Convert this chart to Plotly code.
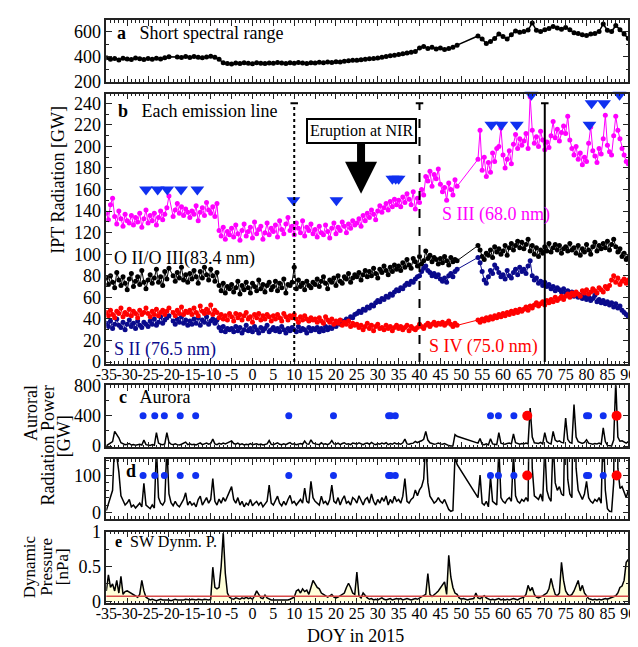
import numpy as np
import plotly.graph_objects as go

# ---------------- data ----------------
doy_half = np.arange(-35, 90.001, 0.5)   # half-day grid, DOY in 2015
doy_day = np.arange(-35, 90.001, 1.0)    # daily grid
x_tickvals = list(range(-35, 91, 5))
x_ticktext = [str(v) for v in x_tickvals]

# panel a: short spectral range (GW), daily
short_range = [392, 380, 386, 375, 388, 382, 378, 390, 384, 379,
               386, 381, 389, 383, 392, 400, None, 398, 394, 401,
               395, 402, 397, 393, 399, 404, 396, 380, 352, 347,
               343, 350, 346, 352, 348, 345, 353, 349, 347, 351,
               348, 354, 350, 346, 352, 349, 355, 351, 347, 353,
               350, 356, 352, 358, 355, 361, 358, 364, 368, 372,
               372, 376, 380, 384, 386, 390, 396, 402, 407, 412,
               418, 424, 430, 436, 442, 470, 482, 465, 475, 462,
               470, 458, 466, 475, 492, None, None, None, None, 565,
               540, 505, 520, 545, 580, 560, 540, 575, 605, 595,
               600, 612, 668, 610, 600, 615, 625, 640, 628, 618,
               632, 615, 590, 585, 575, 568, 580, 585, 600, 660,
               610, 600, 648, 615, 580, 545]

# panel b: emission lines (GW), half-day
s3_680 = [138, 132, 146, 152, 135, 128, 140, 133, 126, 137, 131, 129, 136, 127, 134, 130, 138, 125, 133, 141,
          129, 136, 131, 138, 127, 134, 140, 132, 137, 143, 154, None, 135, 141, 147, 138, 144, 136, 142, 139,
          134, 140, 137, 145, 131, 139, 143, 136, 148, 141, 138, 144, 135, 147, 122, 117, 125, 114, 121, 118,
          124, 116, 127, 119, 113, 122, 128, 117, 121, 125, 115, 130, 119, 123, 126, 114, 120, 129, 118, 124,
          121, 127, 116, 131, 123, 119, 128, 134, 122, 126, 118, 129, 124, 120, 131, 117, 125, 122, 128, 119,
          123, 116, 126, 120, 118, 127, 121, 115, 124, 129, 119, 125, 122, 130, 126, 120, 128, 124, 131, 127,
          129, 133, 126, 136, 131, 138, 134, 141, 137, 132, 140, 145, 139, 143, 147, 141, 149, 144, 151, 146,
          150, 144, 153, 148, 156, 151, 146, 158, 142, 152, 148, 160, 155, 172, 168, 177, 163, 174, 170, 179,
          165, 158, 162, 150, 166, 160, 155, 169, 163] + [None] * 9 + [188, 215,
          178, 190, 172, 185, 176, 194, 186, 198, 200, 217, 192, 180, 188, 196, 184, 202, 211, 198, 207, 201,
          205, 212, 198, 246, 215, 203, 209, 200, 214, 206, 197, 204, 199, 210, 223, 208, 216, 205, 213, 219,
          212, 228, 206, 198, 192, 200, 188, 194, 183, 190, 186, 203, 218, 196, 191, 185, 198, 193, 207, 229,
          201, 195, 192, 210, 228, 215, 207, 198, 192, 186, 184]

o2o3_834 = [78, 72, 80, 74, 69, 83, 76, 71, 79, 73, 67, 77, 82, 70, 75, 79, 72, 85, 74, 68,
            76, 81, 73, 78, 86, 74, 79, 71, 84, 77, 87, None, 80, 75, 83, 78, 88, 76, 81, 74,
            82, 77, 85, 79, 73, 84, 78, 88, 81, 76, 86, 80, 75, 83, 71, 66, 73, 64, 70, 68,
            72, 65, 69, 75, 63, 71, 67, 74, 69, 64, 73, 70, 66, 76, 68, 72, 65, 71, 74, 67,
            70, 75, 66, 73, 69, 77, 64, 72, 71, 74, 88, 68, 76, 70, 73, 67, 75, 71, 69, 74,
            72, 77, 70, 75, 79, 73, 68, 76, 74, 78, 71, 80, 75, 73, 79, 77, 82, 74, 78, 81,
            79, 83, 76, 81, 85, 79, 84, 80, 87, 82, 78, 86, 83, 89, 85, 81, 88, 84, 90, 86,
            89, 85, 92, 88, 95, 90, 87, 96, 93, 89, 98, 91, 94, 103, 96, 99, 93, 97, 95, 91,
            96, 92, 98, 94, 90, 97, 93, 95, 94] + [None] * 9 + [108, 104,
            98, 95, 101, 99, 104, 97, 107, 102, 105, 100, 103, 108, 99, 106, 110, 104, 108, 112, 106, 111,
            105, 109, 114, 103, 108, 100, 106, 98, 104, 101, 107, 103, 110, 102, 106, 109, 104, 108, 101, 105,
            107, 103, 110, 104, 106, 101, 108, 99, 105, 102, 109, 104, 100, 107, 111, 103, 108, 105, 110, 106,
            112, 104, 109, 114, 107, 102, 105, 98, 101, 95, 97]

s4_750 = [46, 43, 48, 44, 41, 47, 45, 50, 42, 46, 44, 49, 43, 47, 45, 41, 48, 44, 46, 50,
          45, 42, 47, 44, 49, 43, 46, 48, 44, 47, 50, None, 46, 43, 48, 45, 51, 44, 47, 46,
          48, 44, 50, 46, 43, 52, 47, 45, 49, 46, 53, 44, 48, 46, 41, 44, 40, 43, 39, 45,
          42, 38, 45, 41, 44, 39, 43, 46, 40, 42, 37, 44, 41, 45, 39, 43, 40, 44, 42, 38,
          43, 40, 44, 41, 38, 45, 42, 39, 43, 41, 44, 40, 37, 42, 39, 43, 40, 38, 41, 39,
          40, 37, 41, 38, 36, 42, 39, 37, 40, 35, 38, 36, 39, 34, 37, 35, 38, 33, 36, 34,
          35, 32, 34, 30, 33, 36, 31, 34, 29, 33, 35, 31, 32, 30, 34, 31, 33, 29, 32, 34,
          31, 33, 30, 32, 34, 29, 33, 31, 30, 32, 35, 33, 31, 34, 36, 33, 35, 37, 34, 36,
          35, 37, 34, 36, 38, 35, 33, 36, 34] + [None] * 9 + [39, 37,
          40, 38, 41, 39, 42, 40, 43, 41, 44, 42, 45, 43, 46, 44, 47, 45, 48, 46, 49, 47,
          49, 51, 48, 52, 50, 53, 55, 52, 54, 56, 53, 57, 55, 58, 56, 60, 57, 59, 61, 58,
          61, 63, 60, 64, 62, 65, 63, 61, 66, 64, 67, 63, 65, 68, 66, 64, 69, 67, 65, 70,
          68, 71, 76, 80, 74, 78, 72, 75, 77, 73, 76]

s2_765 = [36, 33, 38, 31, 35, 40, 34, 32, 37, 30, 35, 39, 33, 36, 31, 38, 34, 32, 37, 35,
          33, 38, 35, 40, 34, 37, 42, 36, 39, 41, 43, None, 38, 35, 40, 37, 42, 36, 39, 34,
          38, 35, 40, 36, 41, 34, 39, 37, 42, 35, 38, 40, 36, 39, 32, 29, 33, 28, 31, 30,
          31, 28, 33, 29, 32, 27, 30, 34, 29, 31, 28, 33, 30, 27, 32, 29, 31, 34, 28, 30,
          32, 29, 31, 28, 33, 30, 27, 31, 29, 32, 30, 28, 33, 29, 31, 30, 27, 32, 29, 31,
          30, 32, 28, 31, 29, 33, 30, 32, 31, 34, 33, 36, 35, 38, 37, 40, 39, 42, 41, 44,
          45, 47, 46, 49, 48, 51, 50, 53, 52, 55, 57, 56, 59, 58, 61, 60, 63, 62, 65, 67,
          66, 69, 68, 71, 73, 72, 75, 74, 77, 79, 80, 84, 87, 89, 85, 83, 80, 82, 79, 81,
          77, 75, 78, 74, 80, 82, 79, 84, 86] + [None] * 9 + [97, 92,
          84, 76, 73, 79, 85, 82, 90, 87, 83, 79, 81, 77, 85, 80, 78, 83, 86, 81, 88, 84,
          86, 82, 89, 94, 80, 76, 78, 73, 75, 71, 74, 70, 72, 68, 70, 66, 69, 67, 65, 68,
          64, 66, 62, 65, 61, 63, 60, 62, 59, 61, 58, 60, 57, 59, 62, 56, 58, 55, 57, 54,
          56, 53, 55, 51, 54, 50, 52, 48, 46, 44, 42]

# panel b markers (blue triangles)
tri_doy = [-25.5, -22.7, -20.4, -17.1, -13.2, 9.8, 20.1, 33.5, 34.3, 35.0,
           57.2, 59.6, 63.3, 66.8, 80.7, 81.2, 84.2, 87.9]
tri_val = [160, 160, 160, 160, 160, 150, 150, 170, 170, 170,
           220, 220, 220, 248, 220, 240, 240, 248]
event_doy = [10, 40, 70]
event_dash = ["dot", "dash", "solid"]
event_top = 240

# panels c/d: auroral radiation power (GW), half-day
aurora = [5, 25, 40, 60, 195, 150, 110, 45, 30, 20, 26, 35, 15, 20, 12, 18, 25, 15, 79, 20,
          15, 10, 20, 12, 178, 40, 25, 20, 30, 178, 50, 26, 18, 30, 20, 15, 25, 35, 53, 20,
          30, 20, 25, 15, 35, 44, 20, 30, 40, 25, 35, 92, 30, 20, 36, 25, 40, 30, 45, 60,
          70, 35, 25, 40, 20, 30, 15, 25, 20, 35, 18, 25, 30, 20, 28, 15, 22, 30, 74, 25,
          20, 30, 44, 25, 18, 30, 20, 35, 46, 25, 30, 20, 28, 35, 25, 66, 30, 25, 84, 40,
          30, 25, 20, 44, 25, 30, 20, 35, 74, 30, 25, 40, 20, 35, 45, 25, 30, 20, 40, 35,
          25, 45, 30, 20, 35, 40, 25, 50, 30, 20, 35, 25, 40, 30, 45, 20, 35, 25, 44, 30,
          35, 25, 44, 92, 30, 25, 35, 40, 61, 45, 61, 70, 90, 195, 80, 44, 35, 25, 30, 40,
          30, 25, 35, 20, 8, 3, 5, 152, 130] + [None] * 9 + [40, 101,
          25, 20, 30, 15, 97, 30, 25, 20, 178, 40, 30, 25, 35, 40, 30, 160, 45, 30, 25, 35,
          30, 40, 30, 500, 120, 45, 40, 35, 50, 30, 178, 60, 40, 30, 195, 80, 60, 70, 50, 45,
          368, 90, 50, 40, 546, 120, 60, 45, 35, 50, 84, 40, 30, 25, 35, 30, 40, 25, 241, 60,
          10, 3, 2, 80, 850, 120, 65, 70, 55, 40, 60]
blue_dot_doy = [-26.2, -23.4, -21.1, -17.3, -13.6, 8.7, 19.4, 32.6, 33.1, 34.2,
                57.0, 58.9, 62.6, 80.0, 80.5, 84.0]
red_dot_doy = [65.8, 87.2]
dot_level_c = 400
dot_level_d = 100

# panel e: solar wind dynamic pressure (nPa), half-day
pressure = [0.15, 0.38, 0.2, 0.25, 0.15, 0.3, 0.12, 0.36, 0.1, 0.14, 0.15, 0.13, 0.12, 0.1, 0.08, 0.06, 0.1, 0.3, 0.15, 0.06,
            0.04, 0.02, 0.03, 0.02, 0.01, 0.02, 0.03, 0.02, 0.02, 0.03, 0.02, 0.01, 0.02, 0.03, 0.02, 0.02, 0.01, 0.02, 0.03, 0.02,
            0.02, 0.03, 0.02, 0.02, 0.03, 0.02, 0.02, 0.03, 0.02, 0.02, 0.03, 0.49, 0.2, 0.18, 0.2, 0.5, 0.98, 0.4, 0.12, 0.06,
            0.04, 0.03, 0.05, 0.04, 0.03, 0.05, 0.04, 0.06, 0.04, 0.05, 0.03, 0.08, 0.15, 0.1, 0.05, 0.04, 0.09, 0.05, 0.03, 0.02,
            0.02, 0.02, 0.01, 0.02, 0.02, 0.01, 0.02, 0.02, 0.03, 0.05, 0.06, 0.15, 0.17, 0.12, 0.18, 0.14, 0.16, 0.1, 0.2, 0.3,
            0.25, 0.2, 0.18, 0.12, 0.1, 0.08, 0.06, 0.08, 0.1, 0.06, 0.05, 0.06, 0.08, 0.1, 0.12, 0.2, 0.26, 0.2, 0.12, 0.1,
            0.42, 0.08, 0.05, 0.12, 0.08, 0.05, 0.03, 0.04, 0.02, 0.03, 0.02, 0.04, 0.05, 0.03, 0.02, 0.03, 0.04, 0.02, 0.03, 0.04,
            0.03, 0.04, 0.02, 0.03, 0.04, 0.03, 0.02, 0.03, 0.04, 0.03, 0.05, 0.06, 0.08, 0.1, 0.4, 0.1, 0.07, 0.09, 0.12, 0.15,
            0.2, 0.25, 0.28, 0.1, 0.66, 0.35, 0.2, 0.12, 0.1, 0.05, 0.03, 0.04, 0.03, 0.02, 0.03, 0.03, 0.04, 0.12, 0.05, 0.04,
            0.06, 0.08, 0.05, 0.03, 0.02, 0.03, 0.02, 0.03, 0.04, 0.02, 0.03, 0.02, 0.03, 0.02, 0.03, 0.04, 0.03, 0.02, 0.04, 0.05,
            0.06, 0.1, 0.23, 0.15, 0.2, 0.1, 0.06, 0.05, 0.06, 0.08, 0.1, 0.12, 0.18, 0.33, 0.2, 0.1, 0.08, 0.12, 0.56, 0.3,
            0.15, 0.1, 0.08, 0.1, 0.15, 0.22, 0.3, 0.15, 0.23, 0.12, 0.08, 0.04, 0.03, 0.02, 0.03, 0.02, 0.03, 0.02, 0.03, 0.04,
            0.03, 0.04, 0.05, 0.07, 0.08, 0.12, 0.2, 0.22, 0.3, 0.56, 0.6]
pressure_ref = 0.075

for name, arr, ref in [("short_range", short_range, doy_day), ("s3", s3_680, doy_half),
                       ("o2o3", o2o3_834, doy_half), ("s4", s4_750, doy_half),
                       ("s2", s2_765, doy_half), ("aurora", aurora, doy_half),
                       ("pressure", pressure, doy_half)]:
    assert len(arr) == len(ref), (name, len(arr), len(ref))

# ---------------- layout helpers ----------------
W, H = 638, 647
FONT = "Liberation Serif"
def px(x): return x / W
def py(y): return 1 - y / H

X0, X1 = 90, 628
panels = {  # pixel top, bottom
    1: (2, 66), 2: (78, 357), 3: (379, 443), 4: (455, 517), 5: (530, 604)}

fig = go.Figure()

# panel a
fig.add_trace(go.Scatter(x=doy_day, y=short_range, mode="lines+markers", connectgaps=True,
                         line=dict(color="black", width=1.5), marker=dict(size=5, color="black"),
                         xaxis="x", yaxis="y", showlegend=False))
# panel b
series_b = [(s3_680, "#ff00ff"), (o2o3_834, "black"), (s2_765, "#0a0a8c"), (s4_750, "#ff0000")]
for vals, col in series_b:
    fig.add_trace(go.Scatter(x=doy_half, y=vals, mode="lines+markers", connectgaps=True,
                             line=dict(color=col, width=1), marker=dict(size=5, color=col),
                             xaxis="x2", yaxis="y2", showlegend=False))
fig.add_trace(go.Scatter(x=tri_doy, y=tri_val, mode="markers", cliponaxis=False,
                         marker=dict(symbol="triangle-down", size=12, color="#1030f0"),
                         xaxis="x2", yaxis="y2", showlegend=False))
# panels c, d
for k, lvl in [(3, dot_level_c), (4, dot_level_d)]:
    fig.add_trace(go.Scatter(x=doy_half, y=aurora, mode="lines", connectgaps=True,
                             line=dict(color="black", width=1.5),
                             xaxis=f"x{k}", yaxis=f"y{k}", showlegend=False))
    fig.add_trace(go.Scatter(x=blue_dot_doy, y=[lvl] * len(blue_dot_doy), mode="markers",
                             marker=dict(size=7, color="#1030f0"),
                             xaxis=f"x{k}", yaxis=f"y{k}", showlegend=False))
    fig.add_trace(go.Scatter(x=red_dot_doy, y=[lvl] * len(red_dot_doy), mode="markers",
                             marker=dict(size=10, color="#ff0000"),
                             xaxis=f"x{k}", yaxis=f"y{k}", showlegend=False))
# panel e
fig.add_trace(go.Scatter(x=doy_half, y=pressure, mode="lines", fill="tozeroy",
                         fillcolor="rgba(255,255,190,0.6)",
                         line=dict(color="black", width=1.5),
                         xaxis="x5", yaxis="y5", showlegend=False))

# axes
yranges = {1: [200, 692], 2: [-1.8, 249], 3: [-15, 800], 4: [-18, 145], 5: [-0.028, 1.0]}
ydt = {1: (200, 100), 2: (20, 10), 3: (400, 200), 4: (100, 20), 5: (0.5, 0.25)}
axcol = "#222222"
layout = dict(width=W, height=H, margin=dict(l=0, r=0, t=0, b=0),
              paper_bgcolor="white", plot_bgcolor="white",
              font=dict(family=FONT, size=18, color="black"))
for k in range(1, 6):
    top, bot = panels[k]
    sfx = "" if k == 1 else str(k)
    show_x = k in (2, 5)
    layout[f"xaxis{sfx}"] = dict(
        domain=[px(X0), px(X1)], anchor=f"y{sfx}", range=[-35, 90],
        tickmode="array", tickvals=x_tickvals, ticktext=x_ticktext,
        ticks="inside", ticklen=6, tickwidth=1.2, tickcolor=axcol,
        minor=dict(dtick=1, tick0=0, ticklen=3, tickcolor=axcol, ticks="inside"),
        showline=True, linecolor=axcol, linewidth=1.5, mirror="allticks",
        showgrid=False, zeroline=False, showticklabels=show_x, tickangle=0,
        ticklabelstandoff=-5,
        tickfont=dict(size=16, family=FONT))
    dt, mdt = ydt[k]
    layout[f"yaxis{sfx}"] = dict(
        domain=[py(bot), py(top)], anchor=f"x{sfx}", range=yranges[k],
        tick0=0, dtick=dt, ticks="inside", ticklen=6, tickwidth=1.2, tickcolor=axcol,
        minor=dict(dtick=mdt, ticklen=3, tickcolor=axcol, ticks="inside"),
        showline=True, linecolor=axcol, linewidth=1.5, mirror="allticks",
        showgrid=False, zeroline=False, tickfont=dict(size=18, family=FONT))
fig.update_layout(**layout)

# event lines in panel b
shapes = []
for xe, dash in zip(event_doy, event_dash):
    shapes.append(dict(type="line", xref="x2", yref="y2", x0=xe, x1=xe, y0=0, y1=event_top,
                       line=dict(color="black", width=2, dash=dash)))
    shapes.append(dict(type="line", xref="x2", yref="y2", x0=xe - 0.9, x1=xe + 0.9,
                       y0=event_top, y1=event_top, line=dict(color="black", width=2)))
shapes.append(dict(type="line", xref="x5 domain", yref="y5", x0=0, x1=1,
                   y0=pressure_ref, y1=pressure_ref, line=dict(color="#d84a4a", width=1.5)))
fig.update_layout(shapes=shapes)

ann = []
def text(x, y, s, size=18, color="black", anchor="left", angle=0):
    ann.append(dict(x=px(x), y=py(y), xref="paper", yref="paper", text=s, showarrow=False,
                    xanchor=anchor, yanchor="middle", textangle=angle,
                    font=dict(family=FONT, size=size, color=color)))

text(99, 15, "<b>a</b>   Short spectral range")
text(100, 96, "<b>b</b>   Each emission line")
text(101, 391, "<b>c</b>   Aurora")
text(108, 467, "<b>d</b>")
text(97, 541, "<b>e</b>  SW Dynm. P.", size=16)
text(434, 203, "S III (68.0 nm)", color="#ff00ff")
text(96, 248, "O II/O III(83.4 nm)", color="black")
text(96, 342, "S II (76.5 nm)", color="#0a0a8c")
text(421, 339, "S IV (75.0 nm)", color="#ff0000")
text(40, 167, "IPT Radiation [GW]", anchor="center", angle=-90)
text(13, 408, "Auroral", anchor="center", angle=-90)
text(30, 441, "Radiation Power", anchor="center", angle=-90)
text(46, 432, "[GW]", anchor="center", angle=-90)
text(11, 566, "Dynamic", size=17, anchor="center", angle=-90)
text(28, 566, "Pressure", size=17, anchor="center", angle=-90)
text(45, 566, "[nPa]", size=17, anchor="center", angle=-90)
text(347, 638, "DOY in 2015", anchor="center")

# eruption annotation with arrow
ann.append(dict(x=26.0, y=156, xref="x2", yref="y2", ax=0, ay=-63,
                text="Eruption at NIR", showarrow=True, arrowhead=2, arrowsize=0.8,
                arrowwidth=8, arrowcolor="black", bordercolor="black", borderwidth=2,
                borderpad=2, bgcolor="white", font=dict(family=FONT, size=16, color="black")))
fig.update_layout(annotations=ann)

fig.write_html("out.html")
